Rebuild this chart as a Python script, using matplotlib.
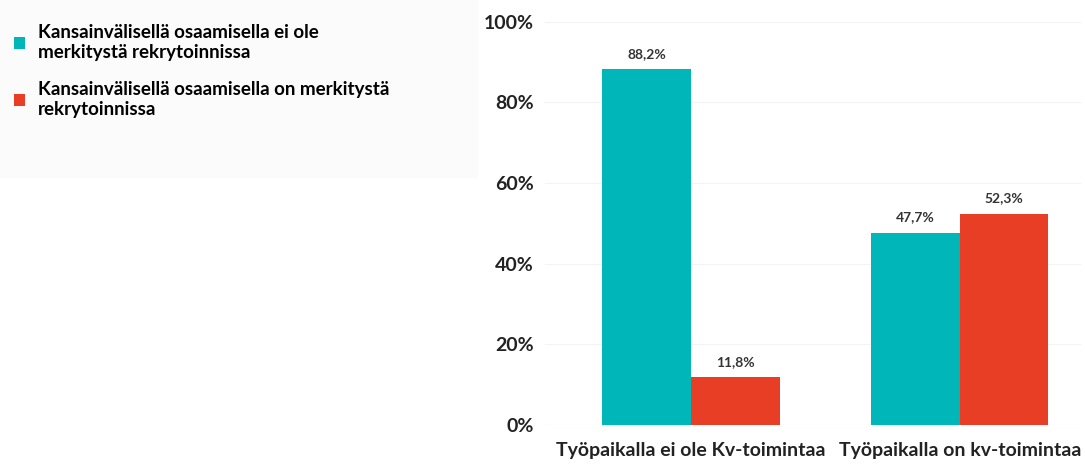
import matplotlib.pyplot as plt
import numpy as np
from matplotlib.patches import Rectangle
from matplotlib.ticker import FuncFormatter

plt.rcParams['font.family'] = ['Lato', 'DejaVu Sans']

categories = ["Työpaikalla ei ole Kv-toimintaa", "Työpaikalla on kv-toimintaa"]
series_names = [
    "Kansainvälisellä osaamisella ei ole\nmerkitystä rekrytoinnissa",
    "Kansainvälisellä osaamisella on merkitystä\nrekrytoinnissa",
]
ei_merkitysta = [88.2, 47.7]
on_merkitysta = [11.8, 52.3]
colors = ["#00B6B9", "#E93E26"]

fig = plt.figure(figsize=(10.85, 4.65), dpi=100)
fig.patches.append(Rectangle((0, 0.62), 0.44, 0.38, transform=fig.transFigure,
                             color="#fbfbfb", zorder=0))
ax = fig.add_axes([0.502, 0.086, 0.494, 0.867])

x = np.arange(len(categories))
w = 0.33
bars = []
for i, (vals, c) in enumerate(zip([ei_merkitysta, on_merkitysta], colors)):
    b = ax.bar(x + (i - 0.5) * w, vals, w, color=c, label=series_names[i], zorder=2)
    bars.append(b)
    for rect, v in zip(b, vals):
        ax.annotate(f"{v:.1f}%".replace(".", ","),
                    (rect.get_x() + rect.get_width() / 2, v),
                    xytext=(0, 7), textcoords="offset points",
                    ha="center", va="bottom", fontsize=10, fontweight="bold",
                    color="#333333")

ax.set_ylim(0, 100)
ax.set_xlim(-0.545, 1.45)
ax.set_yticks(range(0, 101, 20))
ax.yaxis.set_major_formatter(FuncFormatter(lambda v, p: f"{v:.0f}%"))
ax.set_xticks(x)
ax.set_xticklabels(categories)
ax.tick_params(axis="y", labelsize=14, length=0, pad=8, labelcolor="#222222")
ax.tick_params(axis="x", labelsize=14, length=0, pad=12, labelcolor="#222222")
for lab in ax.get_xticklabels() + ax.get_yticklabels():
    lab.set_fontweight("bold")
ax.grid(axis="y", color="#f3f3f3", linewidth=0.8, zorder=0)
for s in ax.spines.values():
    s.set_visible(False)
ax.axhline(0, color="#eeeeee", linewidth=0.8, zorder=1)

fig.legend(handles=bars, labels=series_names, loc="upper left",
           bbox_to_anchor=(-0.003, 0.985), frameon=False,
           handlelength=0.6, handleheight=0.6, handletextpad=0.7,
           labelspacing=1.1, prop={"weight": "bold", "size": 13.5})

fig.savefig("out.png", dpi=100)
